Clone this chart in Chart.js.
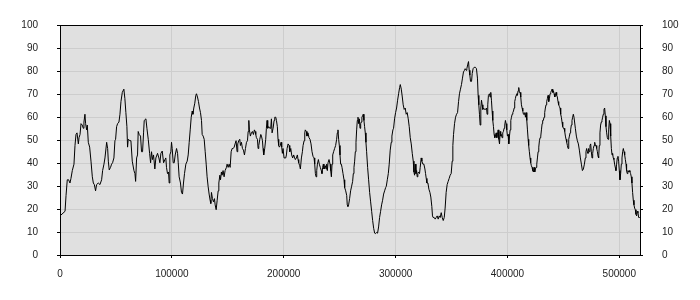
<!DOCTYPE html>
<html lang="en">
<head>
<meta charset="UTF-8">
<title>Series</title>
<script src="https://cdn.jsdelivr.net/npm/chart.js"></script>
<style>
  body { margin: 0; background: #fff; }
</style>
</head>
<body>
<canvas id="chart" width="700" height="300"></canvas>
<script>
// x positions and values, left to right
const xValues = [
  0, 4500, 5400, 6500, 7700, 8900, 9800, 11000, 12500, 13400, 14300, 15200, 16400, 17000, 17900, 18800, 19900, 20800, 21400, 22300,
  22900, 23800, 24400, 25300, 26500, 27700, 28900, 29800, 30700, 31800, 32700, 34200, 35700, 37200, 38100, 39300, 40200, 41700, 42600, 43200,
  44000, 45200, 46100, 47000, 48200, 49100, 49700, 50600, 51500, 52700, 53600, 54500, 55700, 57100, 58000, 58900, 59800, 60400, 61000, 62500,
  63400, 64600, 66100, 67000, 67600, 68500, 69300, 69900, 70800, 72000, 72900, 73800, 74700, 75300, 76800, 77700, 78900, 80100, 81000, 81800,
  82700, 83600, 84800, 85700, 87200, 88400, 89300, 90200, 91400, 92600, 93800,
  94600, 95200, 96100, 97000, 97600, 98200, 99100, 99700, 100300, 101200, 102100, 103000, 104200, 105100, 105700, 106500, 107700, 108600, 109500, 110400,
  111300, 112500, 113700, 114600, 115500, 116400, 117300, 118200, 118800, 119600, 120500, 121400, 122000, 122900, 123800, 124700, 125600, 126500, 127100, 128000,
  128900, 129800, 130700, 131500, 132400, 133300, 134200, 134800, 135400, 136300, 137200, 138100, 138700, 139600, 140500, 141400, 142000, 142900, 143500, 144300,
  144900, 145800, 146700, 147600, 148800, 149400, 150300, 151200, 152100, 153000, 153900, 154800, 155700, 156500, 157400, 158300, 158900, 159800, 160700, 161300,
  162200, 163100, 164000, 164900, 165800, 166700, 167600, 168200, 168800, 169300, 170200, 171100, 172000, 172900, 173800, 174400, 175000, 175600, 176500, 177100,
  177700, 178600, 179500, 180100, 181000, 181500, 182100, 183000, 183900, 184500, 185100, 185700, 186600, 187500,
  188400, 189000, 189600, 190500, 191400, 192000, 192900, 193500, 194300, 194900, 195500, 196100, 197000, 197600, 198200, 198800, 199400, 200300, 200900, 201800,
  202400, 203000, 203900, 204800, 205400, 206300, 207100, 208000, 208900, 209800, 210400, 211300, 212200, 212800, 213400, 214300, 214900, 215800, 216700, 217300,
  218200, 218800, 219300, 220200, 220800, 221700, 222600, 223500, 224400, 225300, 226200, 227100, 227700, 228300, 228900, 229500, 230100, 231000, 231800, 232700,
  233600, 234200, 234800, 235400, 236000, 236600, 237200, 237800, 238400, 239000, 239600, 240500, 241400, 242000, 242600, 243200, 243800, 244600, 245500, 246400,
  247300, 247900, 248500, 249100, 249700, 250300, 250900, 251500, 252100, 253000, 253900, 254500, 255400, 256300, 256800, 257400, 258000, 258900, 259800, 260700,
  261600, 262200, 262800, 263400, 264000, 264600, 265200, 265800, 266400, 267000, 267600, 268200, 268800, 269300, 269900, 270500, 271100, 271700, 272300, 272900,
  273500, 274100, 275000, 275900, 276800,
  277700, 278600, 279500, 280400, 281300, 282100, 283000, 283900, 284800, 285700, 286600, 287500, 288400, 289300, 290200, 291100, 291700, 292600, 293500, 294300,
  295200, 296100, 296700, 297600, 298200, 299100, 300000, 300900, 301800, 302700, 303600, 304200, 305100, 306000, 306800, 307700, 308600, 309500, 310400, 311300,
  312200, 313100, 314000, 314900, 315800, 316400, 317000, 317600, 318200, 318800, 319300, 319900, 320500, 321400, 322000, 322900, 323500, 324400, 325300, 326200,
  326800, 327400, 328000, 328900, 329800, 330700, 331500, 332400, 333000, 333600, 334500, 335400, 336300, 337200, 338100, 339000, 339900, 340800, 341700, 342600,
  343500, 344300, 345200, 346100, 347000, 347900, 348800, 349700, 350600, 351200, 351800, 352700, 353600, 354500, 355400, 356300, 357100, 358000, 358900, 359800,
  360700, 361600, 362200, 363100, 363700, 364600, 365200, 365800, 366400, 367000, 367900, 368500, 369300, 370200,
  371400, 372300, 373200, 373800, 374400, 375000, 375600, 376200, 376800, 377400, 378000, 378600, 379500, 380400, 381300, 381800, 382400, 383000, 383900, 384500,
  385100, 385700, 386300, 386900, 387500, 388100, 388700, 389300, 389900, 390500, 391100, 391700, 392300, 392900, 393500, 394000, 394600, 395200, 395800, 396400,
  397000, 397600, 398200, 398800, 399400, 400000, 400600, 401200, 401800, 402400, 403000, 403600, 404200, 404800, 405400, 406000, 406500, 407100, 407700, 408300,
  408900, 409500, 410100, 410700, 411300, 411900, 412500, 413100, 413700, 414300, 414900, 415500, 416100, 416700, 417300, 417900, 418500, 419000, 419600, 420200,
  420800, 421400, 422000, 422600, 423200, 423800, 424400, 425000, 425600, 426200, 426800, 427400, 428000, 428600, 429200, 429800, 430400, 431000, 431500, 432100,
  432700, 433300, 433900, 434500, 435100, 435700, 436300, 436900, 437500, 438100, 438700, 439300, 439900, 440500, 441100, 441700, 442300, 442900, 443500, 444000,
  444600, 445200, 445800, 446400, 447000, 447600, 448200, 448800, 449400, 450000, 450600, 451200, 451800, 452400, 453000, 453600, 454200, 454800, 455400, 456000,
  456500, 457100, 457700, 458300, 458900, 459500,
  460700, 461600, 462500, 463400, 464300, 465200, 466100, 467000, 467900, 468800, 469600, 470200, 470800, 471400, 472000, 472600, 473200, 473800, 474400, 475000,
  475600, 476200, 476800, 477400, 478000, 478600, 479200, 479800, 480400, 481000, 481500, 482100, 482700, 483300, 483900, 484500, 485100, 485700, 486300, 486900,
  487500, 488100, 488700, 489300, 489900, 490500, 491100, 491700, 492300, 492900, 493500, 494000, 494600, 495200, 495800, 496400, 497000, 497600, 498200, 498800,
  499400, 500000, 500600, 501200, 501800, 502400, 503000, 503600, 504200, 504800, 505400, 506000, 506500, 507100, 507700, 508300, 508900, 509500, 510100, 510700,
  511300, 511900, 512500, 513100, 513700, 514300, 514900, 515500, 516100, 516700, 517300, 517900, 518500
];

const yValues = [
  17.0, 19.0, 25.9, 32.7, 32.7, 31.3, 33.3, 36.7, 39.5, 47.6, 52.4, 53.1, 48.3, 51.0, 52.4, 57.1, 56.5, 55.1, 57.8, 61.2,
  57.1, 54.4, 56.5, 49.0, 46.9, 40.8, 34.0, 31.3, 30.6, 27.9, 30.6, 31.3, 30.6, 32.7, 36.7, 39.5, 42.2, 49.0, 46.3, 40.8,
  37.0, 38.1, 39.5, 40.1, 42.2, 49.7, 50.3, 55.8, 57.1, 57.8, 61.2, 66.7, 70.7, 72.1, 68.0, 61.9, 55.8, 46.9, 50.3, 49.7,
  49.7, 40.8, 36.7, 35.4, 32.0, 42.2, 43.5, 53.7, 52.4, 51.7, 44.9, 44.9, 53.1, 58.5, 59.2, 55.1, 50.3, 44.2, 40.1, 44.9,
  41.5, 43.5, 37.4, 42.2, 44.2, 42.2, 40.1, 44.2, 45.2, 40.1, 41.5,
  42.2, 38.1, 35.4, 36.1, 31.3, 43.5, 44.9, 49.0, 46.3, 40.1, 40.1, 43.5, 46.3, 44.2, 40.1, 34.0, 31.3, 27.2, 26.5, 31.3,
  35.4, 39.5, 40.8, 43.5, 49.0, 54.4, 59.9, 62.6, 61.2, 63.9, 66.0, 69.4, 70.1, 68.7, 66.7, 63.9, 61.9, 58.5, 52.4, 51.7,
  50.3, 44.9, 39.5, 34.0, 29.9, 26.5, 23.8, 22.4, 27.2, 24.5, 23.1, 24.5, 21.8, 19.7, 23.8, 27.9, 31.3, 34.7, 32.7, 36.1,
  34.7, 36.7, 34.0, 36.7, 38.1, 39.5, 38.1, 39.5, 38.1, 44.9, 46.3, 46.3, 46.9, 48.3, 49.7, 44.9, 48.3, 49.7, 50.3, 47.6,
  49.0, 46.3, 45.6, 43.5, 46.3, 49.0, 49.7, 53.7, 58.5, 54.4, 51.7, 53.1, 53.7, 52.4, 54.4, 53.7, 52.4, 51.0, 50.3, 46.3,
  47.6, 50.3, 52.4, 51.7, 49.7, 46.3, 43.5, 46.3, 50.3, 55.1, 58.5, 55.1, 55.8, 55.1,
  55.1, 59.2, 53.1, 55.1, 58.5, 59.9, 59.9, 58.5, 55.8, 50.3, 47.6, 46.9, 47.6, 49.0, 46.9, 44.2, 46.3, 42.2, 42.2, 42.2,
  43.5, 46.3, 48.3, 47.6, 44.9, 46.3, 43.5, 42.2, 43.5, 42.2, 41.5, 42.2, 43.5, 41.5, 40.1, 38.8, 37.4, 42.2, 44.9, 47.6,
  49.7, 53.1, 54.4, 53.7, 51.7, 53.1, 51.0, 50.3, 48.3, 44.9, 42.9, 42.2, 39.5, 35.4, 34.0, 36.7, 39.5, 41.5, 39.5, 38.1,
  36.7, 35.4, 38.1, 39.5, 37.4, 38.1, 38.8, 37.4, 39.5, 36.7, 40.1, 41.5, 39.5, 36.7, 34.0, 39.5, 43.5, 44.9, 46.3, 47.6,
  50.3, 53.1, 54.4, 50.3, 47.6, 43.5, 39.5, 39.5, 38.1, 35.4, 32.7, 29.3, 27.9, 25.9, 21.8, 21.1, 21.8, 24.5, 27.9, 29.9,
  32.0, 35.4, 38.1, 40.8, 44.9, 49.0, 54.4, 58.5, 59.9, 57.1, 59.2, 55.1, 57.1, 57.8, 59.9, 60.5, 61.2, 58.5, 55.8, 53.1,
  49.0, 44.9, 38.1, 32.7, 27.2,
  23.1, 19.0, 15.0, 11.6, 9.5, 9.3, 9.8, 9.5, 12.2, 16.3, 19.0, 21.8, 23.8, 26.5, 27.9, 29.3, 29.9, 32.7, 35.4, 39.5,
  45.6, 49.0, 51.7, 54.4, 55.1, 59.2, 61.9, 63.9, 67.3, 70.1, 72.8, 74.1, 72.1, 68.7, 65.3, 63.3, 63.9, 61.2, 61.9, 59.2,
  55.8, 51.0, 48.3, 44.2, 40.8, 36.1, 34.7, 39.5, 35.4, 36.7, 34.0, 35.4, 36.1, 35.4, 38.1, 42.2, 40.8, 39.5, 39.5, 37.4,
  35.4, 33.3, 31.3, 31.3, 28.6, 27.2, 25.2, 21.1, 17.0, 16.3, 16.3, 15.6, 16.3, 17.0, 15.6, 17.0, 16.3, 18.4, 16.3, 15.0,
  16.3, 20.4, 27.2, 30.6, 32.0, 33.3, 34.7, 35.4, 40.8, 47.6, 52.4, 57.1, 59.9, 61.2, 61.9, 66.7, 70.1, 72.1, 74.1, 76.9,
  79.6, 80.3, 81.0, 80.3, 81.0, 83.0, 84.1, 80.3, 78.2, 75.5, 75.5, 78.9, 81.0, 81.6,
  81.6, 81.0, 76.9, 69.4, 65.3, 61.2, 56.5, 63.9, 67.3, 65.3, 63.3, 63.9, 63.3, 63.3, 63.9, 61.2, 65.3, 69.4, 70.1, 68.7,
  70.7, 67.3, 62.6, 58.5, 55.8, 52.4, 51.0, 51.7, 53.1, 51.0, 52.4, 54.4, 50.3, 48.3, 53.7, 51.7, 52.4, 51.0, 53.1, 53.7,
  55.1, 56.5, 58.5, 57.1, 54.4, 51.7, 52.4, 48.3, 51.7, 54.4, 58.5, 59.9, 61.2, 61.9, 62.6, 63.9, 66.7, 68.0, 69.4, 70.1,
  69.4, 71.4, 72.8, 70.7, 70.7, 68.7, 65.3, 63.9, 62.6, 61.2, 61.2, 61.9, 59.9, 61.9, 58.5, 54.4, 50.3, 47.6, 44.9, 42.2,
  40.1, 38.8, 38.1, 36.7, 36.1, 38.1, 36.1, 37.4, 38.1, 39.5, 42.2, 44.9, 46.9, 49.7, 51.0, 51.7, 54.4, 57.1, 58.5, 58.5,
  59.9, 61.9, 63.9, 65.3, 66.7, 68.0, 69.4, 66.7, 68.0, 70.1, 70.7, 71.4, 72.1, 70.7, 71.4, 70.1, 68.7, 69.4, 70.7, 69.4,
  68.7, 66.7, 65.3, 64.6, 63.9, 61.2, 59.9, 57.8, 55.8, 55.1, 55.1, 53.7, 51.7, 50.3, 49.0, 47.6, 46.3, 50.3, 51.7, 53.1,
  54.4, 56.5, 58.5, 59.9, 61.2, 59.9,
  55.1, 51.7, 49.7, 48.3, 45.6, 42.2, 39.5, 36.7, 37.4, 39.5, 42.2, 44.9, 46.3, 44.9, 44.2, 46.3, 44.9, 47.6, 48.3, 44.9,
  42.2, 44.2, 46.3, 47.6, 49.0, 47.6, 47.6, 46.3, 44.9, 42.9, 42.2, 47.6, 53.1, 56.5, 57.8, 58.5, 59.9, 61.2, 63.3, 63.9,
  60.5, 55.8, 53.1, 51.0, 50.3, 54.4, 58.5, 57.1, 51.7, 46.3, 43.5, 44.2, 42.2, 41.5, 39.5, 38.1, 36.7, 39.5, 42.2, 42.9,
  40.8, 36.7, 32.7, 35.4, 39.5, 42.2, 44.9, 46.3, 44.9, 43.5, 41.5, 39.5, 36.7, 35.4, 36.7, 36.1, 36.7, 36.1, 35.4, 34.0,
  31.3, 27.2, 23.8, 21.8, 20.4, 19.7, 17.7, 17.0, 19.0, 18.4, 16.3, 16.3, 16.3
];

const xTickValues = [0, 100000, 200000, 300000, 400000, 500000];
const yMin = 0;
const yMax = 100;
const yTickStep = 10;

const n = Math.min(xValues.length, yValues.length);
const points = [];
for (let i = 0; i < n; i++) {
  points.push({ x: xValues[i], y: yValues[i] });
}

const labelFont = { family: "'Liberation Sans', Arial, sans-serif", size: 10 };
const gridColor = '#cdcdcd';

// grey plot area and the black frame round it
const plotFrame = {
  id: 'plotFrame',
  beforeDraw(chart) {
    const { ctx, chartArea: a } = chart;
    ctx.save();
    ctx.fillStyle = '#e0e0e0';
    ctx.fillRect(a.left, a.top, a.right - a.left, a.bottom - a.top);
    ctx.restore();
  },
  afterDraw(chart) {
    const { ctx, chartArea: a } = chart;
    ctx.save();
    ctx.strokeStyle = '#000';
    ctx.lineWidth = 1;
    ctx.strokeRect(Math.round(a.left) + 0.5, Math.round(a.top) + 0.5,
      Math.round(a.right - a.left), Math.round(a.bottom - a.top));
    ctx.restore();
  }
};

const yAxis = (position, draw) => ({
  type: 'linear',
  position: position,
  min: yMin,
  max: yMax,
  border: { display: false },
  grid: { color: gridColor, drawOnChartArea: draw, tickColor: '#000', tickLength: 3 },
  ticks: { stepSize: yTickStep, font: labelFont, color: '#222', padding: 19 },
  afterFit(scale) { scale.width = 60; }
});

new Chart(document.getElementById('chart'), {
  type: 'line',
  data: {
    datasets: [{
      data: points,
      borderColor: '#000',
      borderWidth: 1,
      pointRadius: 0,
      fill: false,
      tension: 0,
      yAxisID: 'y'
    }]
  },
  options: {
    responsive: false,
    animation: false,
    devicePixelRatio: 1,
    layout: { padding: { top: 10, left: 0, right: 0, bottom: 0 } },
    plugins: { legend: { display: false }, tooltip: { enabled: false } },
    scales: {
      x: {
        type: 'linear',
        min: 0,
        max: xValues[n - 1],
        border: { display: false },
        grid: { color: gridColor, tickColor: '#000', tickLength: 3 },
        ticks: {
          font: labelFont,
          color: '#222',
          padding: 10,
          maxRotation: 0,
          autoSkip: false,
          callback: (v) => String(v)
        },
        afterBuildTicks(scale) {
          scale.ticks = xTickValues.map(v => ({ value: v }));
        },
        afterFit(scale) { scale.height = 45; }
      },
      y: yAxis('left', true),
      y2: yAxis('right', false)
    }
  },
  plugins: [plotFrame]
});
</script>
</body>
</html>
